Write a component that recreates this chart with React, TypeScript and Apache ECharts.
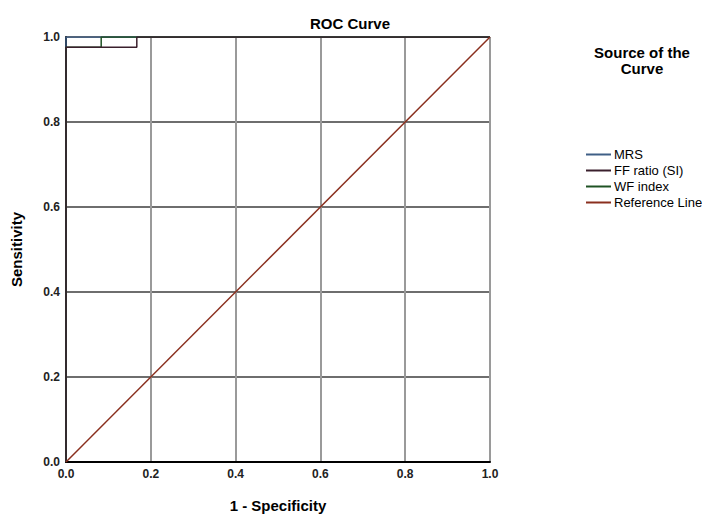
import React, { useEffect, useRef } from "react";
import * as echarts from "echarts";

const xTicks = [0, 0.2, 0.4, 0.6, 0.8, 1.0];
const seriesNames = ["MRS", "FF ratio (SI)", "WF index", "Reference Line"];
const mrsPoints: [number, number][] = [[0, 0], [0, 1], [1, 1]];
const ffPoints: [number, number][] = [[0, 0], [0, 0.976], [0.167, 0.976], [0.167, 1], [1, 1]];
const wfPoints: [number, number][] = [[0, 0], [0, 0.976], [0.083, 0.976], [0.083, 1], [1, 1]];
const refPoints: [number, number][] = [[0, 0], [1, 1]];
const colors = ["#3f5f86", "#3a1f2c", "#1f5224", "#8a2f1e"];

export default function App() {
  const ref = useRef<HTMLDivElement>(null);
  useEffect(() => {
    if (!ref.current) return;
    const chart = echarts.init(ref.current, null, { renderer: "svg" });
    const font = "Arial, 'Liberation Sans', sans-serif";
    const axisCommon = {
      type: "value" as const,
      min: xTicks[0],
      max: xTicks[xTicks.length - 1],
      interval: 0.2,
      axisTick: { show: false },
      axisLine: { show: true, onZero: false, lineStyle: { color: "#000", width: 2 } },
      axisLabel: {
        formatter: (v: number) => v.toFixed(1),
        fontSize: 12,
        fontWeight: "bold" as const,
        color: "#222",
        fontFamily: font,
      },
      nameTextStyle: { fontSize: 15, fontWeight: "bold" as const, color: "#000", fontFamily: font },
    };
    chart.setOption({
      animation: false,
      title: {
        text: "ROC Curve",
        left: 345,
        top: 11,
        textAlign: "center",
        textStyle: { fontSize: 15, fontWeight: "bold", color: "#000", fontFamily: font },
      },
      grid: { left: 66, right: 212, top: 37, bottom: 53, outerBoundsMode: "none", containLabel: false },
      xAxis: {
        ...axisCommon,
        name: "1 - Specificity",
        nameLocation: "middle",
        nameGap: 36,
        axisLabel: { ...axisCommon.axisLabel, margin: 6 },
        splitLine: { show: true, lineStyle: { color: "#9a9a9a", width: 2 } },
      },
      yAxis: {
        ...axisCommon,
        name: "Sensitivity",
        nameLocation: "middle",
        nameGap: 42,
        axisLabel: { ...axisCommon.axisLabel, margin: 6 },
        splitLine: { show: true, lineStyle: { color: "#6e6e6e", width: 2 } },
      },
      legend: {
        orient: "vertical",
        left: 581,
        top: 143,
        itemWidth: 25,
        itemHeight: 2,
        itemGap: 3,
        icon: "rect",
        data: seriesNames,
        textStyle: { fontSize: 13, color: "#000", fontFamily: font, padding: [0, 0, 0, -2] },
      },
      graphic: [
        {
          type: "text",
          x: 642,
          y: 44,
          style: {
            text: "Source of the\nCurve",
            fill: "#000",
            font: "bold 15px Arial, 'Liberation Sans', sans-serif",
            align: "center",
            verticalAlign: "top",
            lineHeight: 16,
          },
        },
      ],
      series: [
        { name: seriesNames[0], type: "line", data: mrsPoints, showSymbol: false, color: colors[0], lineStyle: { width: 1.5, color: colors[0] }, z: 3 },
        { name: seriesNames[2], type: "line", data: wfPoints, showSymbol: false, color: colors[2], lineStyle: { width: 1.5, color: colors[2] }, z: 4 },
        { name: seriesNames[1], type: "line", data: ffPoints, showSymbol: false, color: colors[1], lineStyle: { width: 1.5, color: colors[1] }, z: 5 },
        { name: seriesNames[3], type: "line", data: refPoints, showSymbol: false, color: colors[3], lineStyle: { width: 1.5, color: colors[3] }, z: 6 },
      ],
    });
    return () => chart.dispose();
  }, []);
  return <div ref={ref} style={{ width: 702, height: 515, position: "absolute", left: 0, top: 0, background: "#fff" }} />;
}
